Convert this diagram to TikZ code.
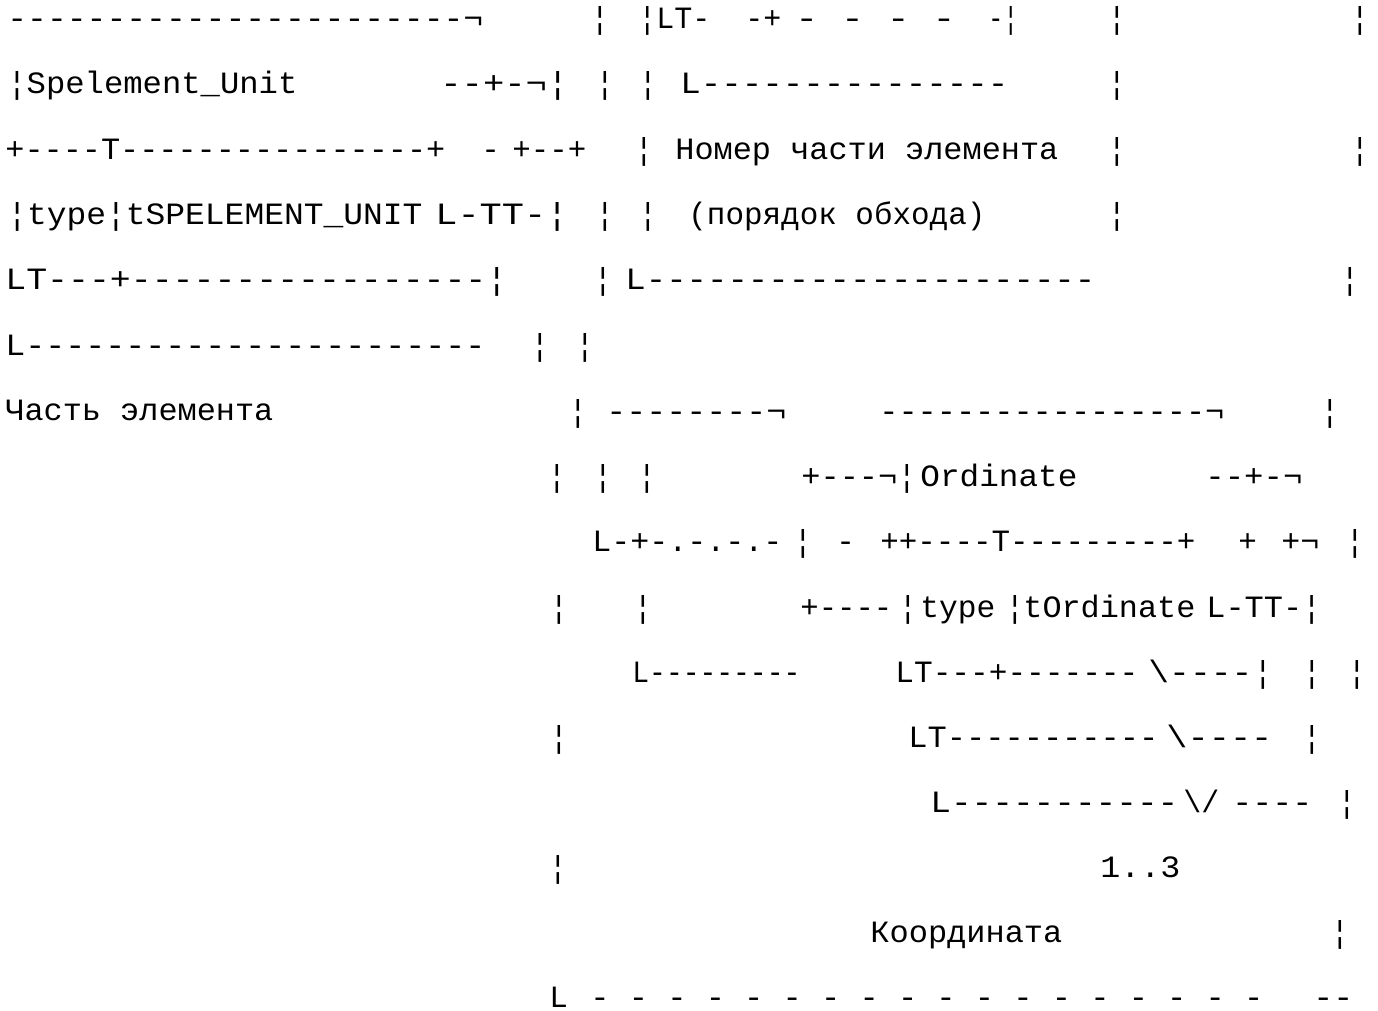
\documentclass[tikz,border=0pt]{standalone}
\usepackage{fontspec}
\usepackage{graphicx}
\setmonofont{Liberation Mono}
\newlength{\pxu}
\setlength{\pxu}{0.5pt}
% stretch a text run to a width given in picture units
\newcommand{\fitto}[2]{\resizebox{#1\pxu}{\height}{#2}}
\tikzset{
  seg/.style={anchor=base west,inner sep=0pt,font=\ttfamily\fontsize{15.5}{15.5}\selectfont},
  bar/.style={anchor=base,inner sep=0pt,font=\ttfamily\fontsize{15.5}{15.5}\selectfont}
}
\begin{document}
\begin{tikzpicture}[x=0.5pt,y=-0.5pt]
\useasboundingbox[fill=white] (0,0) rectangle (1378,1011);
% line 1
\node[seg] (n1a) at (7,29) {\fitto{476}{-----------------------¬}};
\node[bar] (b1a) at (600,29) {¦};
\node[seg] (n1b) at (638,29) {\fitto{72}{¦LT-}};
\node[seg] (n1c) at (745,29) {\fitto{36}{-+}};
\node[seg] (n1d) at (795,29) {\fitto{160}{-~-~-~-}};
\node[seg] (n1e) at (988,29) {\fitto{30}{-¦}};
\node[bar] (b1b) at (1117,29) {¦};
\node[bar] (b1c) at (1360,29) {¦};
% line 2
\node[seg] (n2a) at (7,94) {\fitto{290}{¦Spelement\_Unit}};
\node[seg] (n2b) at (440,94) {\fitto{128}{--+-¬¦}};
\node[bar] (b2a) at (605,94) {¦};
\node[bar] (b2b) at (648,94) {¦};
\node[seg] (n2c) at (680,94) {\fitto{328}{L---------------}};
\node[bar] (b2c) at (1117,94) {¦};
% line 3
\node[seg] (n3a) at (5,160) {\fitto{440}{+----T----------------+}};
\node[seg] (n3b) at (481,160) {-};
\node[seg] (n3c) at (512,160) {\fitto{74}{+--+}};
\node[bar] (b3a) at (644,160) {¦};
\node[seg] (n3d) at (675,160) {\fitto{383}{Номер части элемента}};
\node[bar] (b3b) at (1117,160) {¦};
\node[bar] (b3c) at (1360,160) {¦};
% line 4
\node[seg] (n4a) at (7,225) {\fitto{415}{¦type¦tSPELEMENT\_UNIT}};
\node[seg] (n4b) at (435,225) {\fitto{133}{L-TT-¦}};
\node[bar] (b4a) at (605,225) {¦};
\node[bar] (b4b) at (648,225) {¦};
\node[seg] (n4c) at (688,225) {\fitto{297}{(порядок обхода)}};
\node[bar] (b4c) at (1117,225) {¦};
% line 5
\node[seg] (n5a) at (5,290) {\fitto{502}{LT---+-----------------¦}};
\node[bar] (b5a) at (603,290) {¦};
\node[seg] (n5b) at (625,290) {\fitto{470}{L----------------------}};
\node[bar] (b5b) at (1350,290) {¦};
% line 6
\node[seg] (n6a) at (5,356) {\fitto{480}{L-----------------------}};
\node[bar] (b6a) at (540,356) {¦};
\node[bar] (b6b) at (585,356) {¦};
% line 7
\node[seg] (n7a) at (5,421) {\fitto{268}{Часть элемента}};
\node[bar] (b7a) at (578,421) {¦};
\node[seg] (n7b) at (606,421) {\fitto{180}{--------¬}};
\node[seg] (n7c) at (879,421) {\fitto{345}{-----------------¬}};
\node[bar] (b7b) at (1330,421) {¦};
% line 8
\node[bar] (b8a) at (557,486) {¦};
\node[bar] (b8b) at (603,486) {¦};
\node[bar] (b8c) at (647,486) {¦};
\node[seg] (n8a) at (801,486) {\fitto{96}{+---¬}};
\node[bar] (b8d) at (907,486) {¦};
\node[seg] (n8b) at (920,486) {\fitto{157}{Ordinate}};
\node[seg] (n8c) at (1205,486) {\fitto{97}{--+-¬}};
% line 9
\node[seg] (n9a) at (592,551) {\fitto{190}{L-+-.-.-.-}};
\node[bar] (b9a) at (803,551) {¦};
\node[seg] (n9b) at (836,551) {-};
\node[seg] (n9c) at (880,551) {\fitto{315}{++----T---------+}};
\node[seg] (n9d) at (1238,551) {+};
\node[seg] (n9e) at (1281,551) {\fitto{38}{+¬}};
\node[bar] (b9b) at (1355,551) {¦};
% line 10
\node[bar] (b10a) at (559,617) {¦};
\node[bar] (b10b) at (643,617) {¦};
\node[seg] (n10a) at (800,617) {\fitto{92}{+----}};
\node[bar] (b10c) at (908,617) {¦};
\node[seg] (n10b) at (920,617) {\fitto{75}{type}};
\node[bar] (b10d) at (1015,617) {¦};
\node[seg] (n10c) at (1023,617) {\fitto{172}{tOrdinate}};
\node[seg] (n10d) at (1206,617) {\fitto{115}{L-TT-¦}};
% line 11
\node[seg] (n11a) at (632,682) {\fitto{168}{L---------}};
\node[seg] (n11b) at (895,682) {\fitto{243}{LT---+-------}};
\node[seg] (n11c) at (1148,682) {\fitto{104}{\textbackslash----}};
\node[bar] (b11a) at (1263,682) {¦};
\node[bar] (b11b) at (1312,682) {¦};
\node[bar] (b11c) at (1357,682) {¦};
% line 12
\node[bar] (b12a) at (559,747) {¦};
\node[seg] (n12a) at (908,747) {\fitto{250}{LT-----------}};
\node[seg] (n12b) at (1166,747) {\fitto{106}{\textbackslash----}};
\node[bar] (b12b) at (1312,747) {¦};
% line 13
\node[seg] (n13a) at (930,812) {\fitto{248}{L-----------}};
\node[seg] (n13b) at (1183,812) {\fitto{36}{\textbackslash/}};
\node[seg] (n13c) at (1232,812) {\fitto{80}{----}};
\node[bar] (b13a) at (1347,812) {¦};
% line 14
\node[bar] (b14a) at (558,877) {¦};
\node[seg] (n14a) at (1100,877) {\fitto{80}{1..3}};
% line 15
\node[seg] (n15a) at (870,942) {\fitto{192}{Координата}};
\node[bar] (b15a) at (1340,942) {¦};
% line 16
\node[seg] (n16a) at (549,1007) {L};
\node[seg] (n16b) at (590,1007) {\fitto{673}{-~-~-~-~-~-~-~-~-~-~-~-~-~-~-~-~-~-}};
\node[seg] (n16c) at (1313,1007) {\fitto{40}{--}};
\end{tikzpicture}
\end{document}
